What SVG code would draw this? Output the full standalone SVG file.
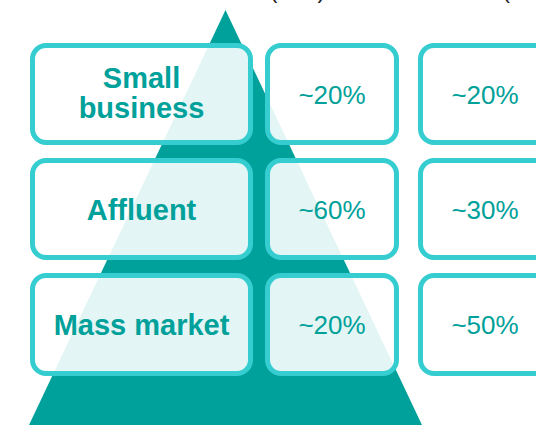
<svg xmlns="http://www.w3.org/2000/svg" width="536" height="425" viewBox="0 0 536 425">
<style>
.box{fill:#ffffff;fill-opacity:0.89;stroke:#35CDD0;stroke-width:5}
.lbl{font-family:"Liberation Sans",Arial,sans-serif;font-weight:bold;font-size:29px;fill:#00A19A;text-anchor:middle}
.pct{font-family:"Liberation Sans",Arial,sans-serif;font-size:26px;fill:#00A19A;text-anchor:middle}
.hdr{font-family:"Liberation Sans",Arial,sans-serif;font-size:24px;fill:#222222}
</style>
<rect width="536" height="425" fill="#ffffff"/>
<g id="header">
<text class="hdr" x="269.5" y="-1.8">(</text>
<text class="hdr" x="317.5" y="-1.8">)</text>
<text class="hdr" x="502" y="-1.8">(</text>
</g>
<g id="pyramid">
<polygon points="225.5,10 29,425 422,425" fill="#00A19A"/>
</g>
<g id="connectors"></g>
<g id="row-small-business">
<g id="small-business-label"><rect class="box" x="32.5" y="45.5" width="218" height="97" rx="13.5"/><text class="lbl" x="141.5" y="88">Small</text><text class="lbl" x="141.5" y="118">business</text></g>
<g id="small-business-col1"><rect class="box" x="267.5" y="45.5" width="129" height="97" rx="13.5"/><text class="pct" x="332" y="103.5">~20%</text></g>
<g id="small-business-col2"><rect class="box" x="420.5" y="45.5" width="129" height="97" rx="13.5"/><text class="pct" x="485" y="103.5">~20%</text></g>
</g>
<g id="row-affluent">
<g id="affluent-label"><rect class="box" x="32.5" y="160.5" width="218" height="97" rx="13.5"/><text class="lbl" x="141.5" y="219.5">Affluent</text></g>
<g id="affluent-col1"><rect class="box" x="267.5" y="160.5" width="129" height="97" rx="13.5"/><text class="pct" x="332" y="218.5">~60%</text></g>
<g id="affluent-col2"><rect class="box" x="420.5" y="160.5" width="129" height="97" rx="13.5"/><text class="pct" x="485" y="218.5">~30%</text></g>
</g>
<g id="row-mass-market">
<g id="mass-market-label"><rect class="box" x="32.5" y="275.5" width="218" height="98" rx="13.5"/><text class="lbl" x="141.5" y="334.5">Mass market</text></g>
<g id="mass-market-col1"><rect class="box" x="267.5" y="275.5" width="129" height="98" rx="13.5"/><text class="pct" x="332" y="333.5">~20%</text></g>
<g id="mass-market-col2"><rect class="box" x="420.5" y="275.5" width="129" height="98" rx="13.5"/><text class="pct" x="485" y="333.5">~50%</text></g>
</g>
</svg>
